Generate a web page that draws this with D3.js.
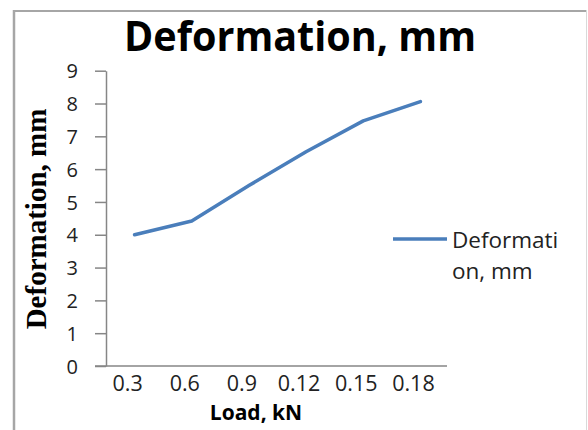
<!DOCTYPE html>
<html>
<head>
<meta charset="utf-8">
<script src="https://cdn.jsdelivr.net/npm/d3@7/dist/d3.min.js"></script>
<style>
  html, body { margin: 0; padding: 0; background: #fff; }
  svg { display: block; }
</style>
</head>
<body>
<svg id="chart" width="588" height="430"></svg>
<script>
// Load steps (category labels) and measured deformation
const categories = ["0.3", "0.6", "0.9", "0.12", "0.15", "0.18"];
const deformation = [4.0, 4.42, 5.5, 6.53, 7.47, 8.06];
const yTicks = [0, 1, 2, 3, 4, 5, 6, 7, 8, 9];
const seriesName = ["Deformati", "on, mm"];

const svg = d3.select("#chart");
const plot = { left: 106, right: 449, top: 70.7, bottom: 366 };
const axisColor = "#868686";
const lineColor = "#4a7ebb";
const sans = "'Open Sans', 'Noto Sans', sans-serif";

// chart frame
svg.append("line").attr("x1", 14).attr("x2", 14).attr("y1", 10).attr("y2", 430)
  .attr("stroke", "#a6a6a6").attr("stroke-width", 2.5);
svg.append("line").attr("x1", 13).attr("x2", 587).attr("y1", 11).attr("y2", 11)
  .attr("stroke", "#a6a6a6").attr("stroke-width", 2);
svg.append("line").attr("x1", 586.5).attr("x2", 586.5).attr("y1", 10).attr("y2", 430)
  .attr("stroke", "#d9d9d9").attr("stroke-width", 1);

const x = d3.scaleBand().domain(categories).range([plot.left, plot.right]);
const y = d3.scaleLinear().domain([0, 9]).range([plot.bottom, plot.top]);

// value axis
const yAxis = svg.append("g")
  .attr("transform", `translate(${plot.left},0)`)
  .call(d3.axisLeft(y).tickValues(yTicks).tickFormat(d3.format("d"))
    .tickSize(11).tickPadding(17).tickSizeOuter(0));
yAxis.select(".domain").attr("stroke", axisColor).attr("stroke-width", 1.5);
yAxis.selectAll(".tick line").attr("stroke", axisColor).attr("stroke-width", 1.5);
yAxis.selectAll(".tick text").attr("fill", "#222").style("font-family", sans)
  .style("font-size", "20px").attr("dy", "0.36em");

// category axis
const xAxis = svg.append("g")
  .attr("transform", `translate(0,${plot.bottom})`)
  .call(d3.axisBottom(x).tickSize(0).tickPadding(10).tickSizeOuter(0));
xAxis.select(".domain").remove();
xAxis.selectAll(".tick text").attr("fill", "#222").style("font-family", sans)
  .style("font-size", "21.5px").attr("dx", -7);
svg.append("line").attr("x1", 95).attr("x2", 447)
  .attr("y1", plot.bottom).attr("y2", plot.bottom)
  .attr("stroke", axisColor).attr("stroke-width", 1.5);

// data line
const line = d3.line()
  .x((d, i) => x(categories[i]) + x.bandwidth() / 2)
  .y(d => y(d));
svg.append("path").datum(deformation)
  .attr("d", line)
  .attr("fill", "none")
  .attr("stroke", lineColor)
  .attr("stroke-width", 3.5)
  .attr("stroke-linejoin", "round")
  .attr("stroke-linecap", "round");

// title
svg.append("text").attr("x", 300).attr("y", 51)
  .attr("text-anchor", "middle")
  .attr("textLength", 352).attr("lengthAdjust", "spacingAndGlyphs")
  .style("font-family", sans).style("font-weight", "bold").style("font-size", "42px")
  .attr("fill", "#000").text("Deformation, mm");

// axis titles
svg.append("text").attr("x", 256).attr("y", 420)
  .attr("text-anchor", "middle")
  .style("font-family", sans).style("font-weight", "bold").style("font-size", "21px")
  .attr("fill", "#000").text("Load, kN");

svg.append("text")
  .attr("transform", "translate(46,219) rotate(-90)")
  .attr("text-anchor", "middle")
  .style("font-family", "'Liberation Serif', 'Times New Roman', serif")
  .style("font-weight", "bold").style("font-size", "29px")
  .attr("fill", "#000").text("Deformation, mm");

// legend
svg.append("line").attr("x1", 393).attr("x2", 447).attr("y1", 239).attr("y2", 239)
  .attr("stroke", lineColor).attr("stroke-width", 3.5);
svg.append("text").attr("x", 452).attr("y", 248)
  .style("font-family", sans).style("font-size", "22.5px").attr("fill", "#222")
  .selectAll("tspan").data(seriesName).join("tspan")
  .attr("x", 452).attr("dy", (d, i) => i === 0 ? 0 : 31)
  .text(d => d);
</script>
</body>
</html>
